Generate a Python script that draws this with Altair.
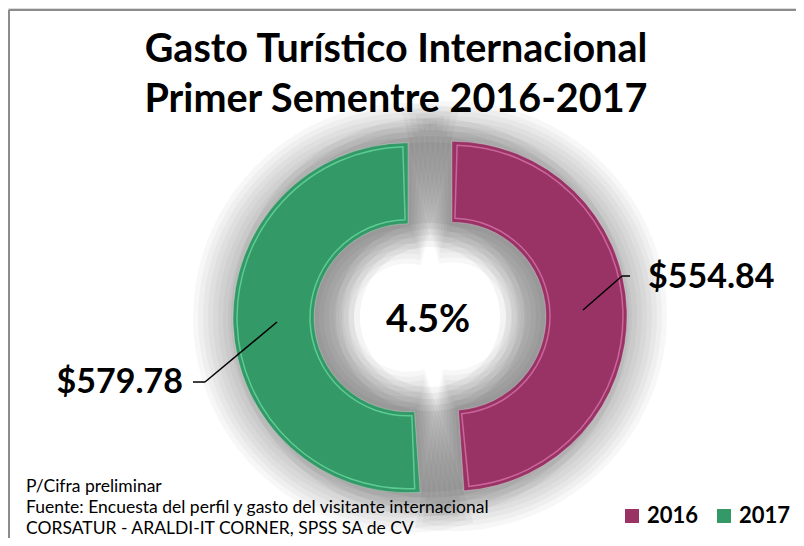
import altair as alt
import pandas as pd

# ---- data ----
years = ["2016", "2017"]
gasto = [554.84, 579.78]
etiquetas = ["$554.84", "$579.78"]
variacion = "4.5%"
titulo = ["Gasto Turístico Internacional", "Primer Sementre 2016-2017"]
notas = [
    "P/Cifra preliminar",
    "Fuente: Encuesta del perfil y gasto del visitante internacional",
    "CORSATUR - ARALDI-IT CORNER, SPSS SA de CV",
]
colores = ["#993366", "#339966"]
claros = ["#e07cb0", "#6fe0a8"]

df = pd.DataFrame({"year": years, "gasto": gasto, "label": etiquetas})

W, H = 788, 530
CX, CY = 422, 309
R_OUT, R_IN = 175, 94
D = 22
FONT = "Lato"

base = alt.Chart(df).transform_joinaggregate(
    total="sum(gasto)"
).transform_window(
    cum="sum(gasto)", sort=[alt.SortField("year")], frame=[None, 0]
).transform_calculate(
    t1="2*PI*datum.cum/datum.total",
    t0="2*PI*(datum.cum-datum.gasto)/datum.total",
).transform_calculate(
    mid="(datum.t0+datum.t1)/2",
).transform_calculate(
    px=f"{CX}+{D}*sin(datum.mid)",
    py=f"{CY}-{D}*cos(datum.mid)",
)

pos = dict(
    x=alt.X("px:Q", scale=None, axis=None),
    y=alt.Y("py:Q", scale=None, axis=None),
)

layers = []

one = alt.Chart(pd.DataFrame({"a": [0]}))

# soft shadow: base glow filling the gap
for k in range(0, 5):
    layers.append(one.mark_arc(
        innerRadius=R_IN - 6 * k, outerRadius=R_OUT + 6 * k,
        color="#000000", opacity=0.045,
    ).encode(theta=alt.value(0), theta2=alt.value(6.2832),
             x=alt.value(CX), y=alt.value(CY)))

# soft shadow per slice
for k in range(1, 9):
    dt = 0.03 * k
    sh = base.transform_calculate(
        s0=f"datum.t0-{dt}", s1=f"datum.t1+{dt}"
    ).mark_arc(
        innerRadius=max(R_IN - 5 * k, 0), outerRadius=R_OUT + 5 * k,
        color="#000000", opacity=0.03,
    ).encode(
        theta=alt.Theta("s0:Q", scale=None), theta2="s1:Q", **pos
    )
    layers.append(sh)

color_scale = alt.Scale(domain=years, range=colores)

main = base.mark_arc(
    innerRadius=R_IN, outerRadius=R_OUT, stroke="#ffffff", strokeOpacity=0.25,
    strokeWidth=1,
).encode(
    theta=alt.Theta("t0:Q", scale=None),
    theta2="t1:Q",
    color=alt.Color(
        "year:N", scale=color_scale,
        legend=alt.Legend(
            orient="none", legendX=613, legendY=497, direction="horizontal",
            title=None, symbolType="square", symbolSize=196, padding=0,
            symbolStrokeWidth=0, labelFont=FONT, labelFontSize=22,
            labelFontWeight="bold", labelColor="#000000", columnPadding=14,
            labelOffset=4,
        ),
    ),
    **pos,
)
layers.append(main)

# bevel highlight
bevel = base.transform_calculate(
    b0="datum.t0+0.03", b1="datum.t1-0.03"
).mark_arc(
    innerRadius=R_IN + 4, outerRadius=R_OUT - 4, filled=False, strokeWidth=1.5,
    opacity=0.7,
).encode(
    theta=alt.Theta("b0:Q", scale=None), theta2="b1:Q",
    stroke=alt.Stroke("year:N", scale=alt.Scale(domain=years, range=claros), legend=None),
    **pos,
)
layers.append(bevel)

# border
layers.append(one.mark_rule(color="#8c8c8c", strokeWidth=2).encode(
    x=alt.value(1), y=alt.value(2), y2=alt.value(H)))
layers.append(one.mark_rule(color="#8c8c8c", strokeWidth=2).encode(
    x=alt.value(1), x2=alt.value(W), y=alt.value(2)))

# leader lines
def seg(x1, y1, x2, y2):
    return one.mark_rule(color="#000000", strokeWidth=1.5).encode(
        x=alt.value(x1), y=alt.value(y1), x2=alt.value(x2), y2=alt.value(y2))

layers += [seg(575, 302, 614, 268), seg(614, 268, 622, 268),
           seg(269, 314, 197, 374), seg(197, 374, 185, 374)]

# value labels
lab16 = alt.Chart(df).transform_filter("datum.year == '2016'").mark_text(
    font=FONT, fontSize=34, fontWeight="bold", align="left", baseline="alphabetic",
    color="#000000",
).encode(text="label:N", x=alt.value(640), y=alt.value(280))
lab17 = alt.Chart(df).transform_filter("datum.year == '2017'").mark_text(
    font=FONT, fontSize=34, fontWeight="bold", align="right", baseline="alphabetic",
    color="#000000",
).encode(text="label:N", x=alt.value(175), y=alt.value(385))
layers += [lab16, lab17]

def txt(s, x, y, size, bold=True, align="center"):
    return alt.Chart(pd.DataFrame({"t": [s]})).mark_text(
        font=FONT, fontSize=size, fontWeight="bold" if bold else "normal",
        align=align, baseline="alphabetic", color="#000000",
    ).encode(text="t:N", x=alt.value(x), y=alt.value(y))

layers.append(txt(variacion, 420, 324, 38))
layers.append(txt(titulo[0], 388, 54, 39.5))
layers.append(txt(titulo[1], 388, 104, 39.5))
for i, n in enumerate(notas):
    layers.append(txt(n, 18, 484 + 21 * i, 17.5, bold=False, align="left"))

chart = alt.layer(*layers).properties(
    width=W, height=H, padding=0, autosize=alt.AutoSizeParams(type="none")
).configure_view(stroke=None).configure(background="#ffffff")

chart.save("out.html", embed_options={"renderer": "svg", "actions": False})
